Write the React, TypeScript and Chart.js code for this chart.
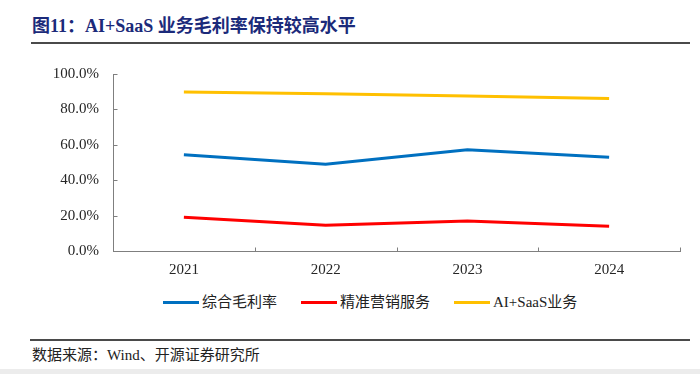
import React, { useEffect, useRef } from "react";
import { Chart, registerables } from "chart.js";

Chart.register(...registerables);

const categories = ["2021", "2022", "2023", "2024"];
const seriesNames = ["综合毛利率", "精准营销服务", "AI+SaaS业务"];
const grossMargin = [54.4, 49.0, 57.2, 52.9];
const marketing = [19.0, 14.5, 16.9, 14.0];
const aiSaas = [89.8, 88.9, 87.6, 86.1];
const seriesColors = ["#0070C0", "#FF0000", "#FFC000"];
const yTicks = [0, 20, 40, 60, 80, 100];

const SERIF = '"Liberation Serif", "Times New Roman", "Noto Sans CJK SC", serif';
const AXIS = "#7f7f7f";

const innerTicks = {
  id: "innerTicks",
  afterDraw(chart: any) {
    const { ctx, chartArea, scales } = chart;
    const x = scales.x;
    const y = scales.y;
    ctx.save();
    ctx.strokeStyle = AXIS;
    ctx.lineWidth = 1;
    ctx.beginPath();
    y.ticks.forEach((_t: any, i: number) => {
      const py = Math.round(y.getPixelForTick(i)) + 0.5;
      const px = Math.round(chartArea.left) + 0.5;
      ctx.moveTo(px, py);
      ctx.lineTo(px + 4, py);
    });
    for (let i = 0; i <= categories.length; i++) {
      const px = Math.round(x.getPixelForValue(i - 0.5)) + 0.5;
      const py = Math.round(chartArea.bottom) + 0.5;
      ctx.moveTo(px, py);
      ctx.lineTo(px, py - 4);
    }
    ctx.stroke();
    ctx.restore();
  },
};

export default function App() {
  const ref = useRef<HTMLCanvasElement | null>(null);

  useEffect(() => {
    if (!ref.current) return;
    const values = [grossMargin, marketing, aiSaas];
    const chart = new Chart(ref.current, {
      type: "line",
      data: {
        labels: categories,
        datasets: seriesNames.map((name, i) => ({
          label: name,
          data: values[i],
          borderColor: seriesColors[i],
          backgroundColor: seriesColors[i],
          borderWidth: 3,
          pointRadius: 0,
          tension: 0,
          fill: false,
        })),
      },
      options: {
        animation: false,
        responsive: false,
        devicePixelRatio: 1,
        layout: { padding: { top: 14, right: 20, left: 0, bottom: 0 } },
        plugins: {
          legend: { display: false },
          tooltip: { enabled: false },
          title: { display: false },
        },
        scales: {
          x: {
            type: "category",
            offset: true,
            grid: { display: true, drawOnChartArea: false, drawTicks: false, offset: true },
            border: { display: true, color: AXIS, width: 1 },
            ticks: {
              padding: 10,
              color: "#262626",
              font: { family: SERIF, size: 15 },
              maxRotation: 0,
            },
            afterFit: (s: any) => {
              s.height = 39;
              s.paddingLeft = 0;
              s.paddingRight = 0;
            },
          },
          y: {
            min: 0,
            max: 100,
            afterBuildTicks: (s: any) => {
              s.ticks = yTicks.map((v) => ({ value: v }));
            },
            grid: { display: true, drawOnChartArea: false, drawTicks: false },
            border: { display: true, color: AXIS, width: 1 },
            ticks: {
              padding: 14,
              color: "#262626",
              font: { family: SERIF, size: 15 },
              callback: (v: any) => Number(v).toFixed(1) + "%",
            },
            afterFit: (s: any) => {
              s.width = 113;
              s.paddingTop = 0;
              s.paddingBottom = 0;
            },
          },
        },
      },
      plugins: [innerTicks],
    });
    return () => chart.destroy();
  }, []);

  return (
    <div
      style={{
        position: "absolute",
        left: 0,
        top: 0,
        width: 700,
        height: 374,
        background: "#ffffff",
        overflow: "hidden",
        fontFamily: SERIF,
      }}
    >
      <div
        style={{
          position: "absolute",
          left: 32,
          top: 16,
          fontSize: 18,
          lineHeight: "20px",
          fontWeight: "bold",
          color: "#1B2A7A",
          whiteSpace: "nowrap",
        }}
      >
        图11：AI+SaaS 业务毛利率保持较高水平
      </div>
      <div
        style={{
          position: "absolute",
          left: 31,
          top: 42,
          width: 659,
          height: 2,
          background: "#4a4a4a",
        }}
      />
      <div style={{ position: "absolute", left: 0, top: 60, width: 700, height: 230 }}>
        <canvas ref={ref} width={700} height={230} style={{ width: 700, height: 230, display: "block" }} />
      </div>
      <div
        style={{
          position: "absolute",
          left: 163,
          top: 292,
          display: "flex",
          alignItems: "center",
          gap: 24,
          fontSize: 15,
          lineHeight: "20px",
          color: "#222222",
          whiteSpace: "nowrap",
        }}
      >
        {seriesNames.map((n, i) => (
          <div key={n} style={{ display: "flex", alignItems: "center" }}>
            <div style={{ width: 36, height: 3, background: seriesColors[i], marginRight: 3 }} />
            <span>{n}</span>
          </div>
        ))}
      </div>
      <div
        style={{
          position: "absolute",
          left: 30,
          top: 339,
          width: 660,
          height: 2,
          background: "#4a4a4a",
        }}
      />
      <div
        style={{
          position: "absolute",
          left: 32,
          top: 346,
          fontSize: 15,
          lineHeight: "18px",
          color: "#222222",
          whiteSpace: "nowrap",
        }}
      >
        数据来源：Wind、开源证券研究所
      </div>
      <div
        style={{
          position: "absolute",
          left: 0,
          top: 369,
          width: 700,
          height: 5,
          background: "#ececec",
        }}
      />
    </div>
  );
}
